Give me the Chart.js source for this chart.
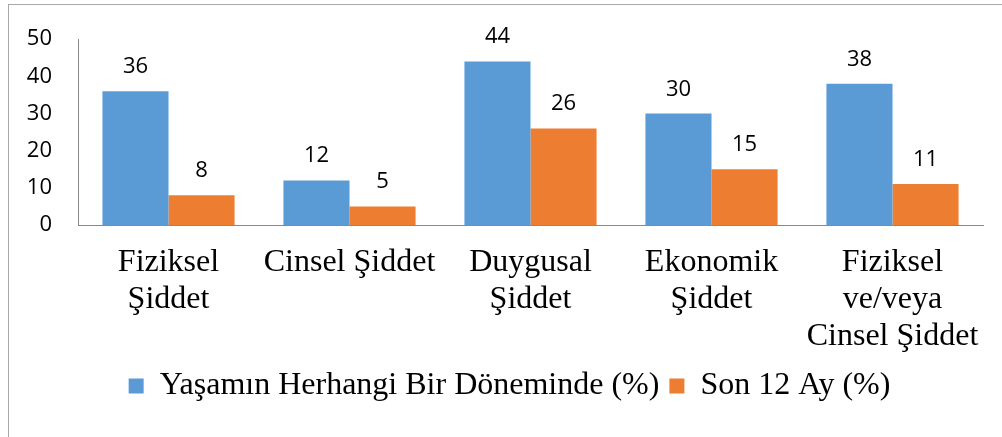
<!DOCTYPE html>
<html>
<head>
<meta charset="utf-8">
<script src="https://cdn.jsdelivr.net/npm/chart.js@4.4.1/dist/chart.umd.min.js"></script>
<style>
  html, body { margin: 0; padding: 0; background: #fff; overflow: hidden; }
  #kutu { position: relative; width: 1002px; height: 437px; }
  #cerceve { position: absolute; left: 8px; top: 4px; width: 1100px; height: 500px; border: 1px solid #a9a9a9; }
  #grafik { position: absolute; left: 0; top: 0; }
</style>
</head>
<body>
<div id="kutu">
  <div id="cerceve"></div>
  <canvas id="grafik" width="1002" height="437"></canvas>
</div>
<script>
// kategoriler ve seriler
const kategoriler = [
  ["Fiziksel", "Şiddet"],
  "Cinsel Şiddet",
  ["Duygusal", "Şiddet"],
  ["Ekonomik", "Şiddet"],
  ["Fiziksel", "ve/veya", "Cinsel Şiddet"]
];
const yasamBoyu = [36, 12, 44, 30, 38];
const son12Ay = [8, 5, 26, 15, 11];
const seriAdlari = ["Yaşamın Herhangi Bir Döneminde (%)", "Son 12 Ay (%)"];
const yTikleri = [0, 10, 20, 30, 40, 50];

const sansFont = "'Open Sans', 'Liberation Sans', sans-serif";
const serifFont = "'Liberation Serif', 'Times New Roman', serif";

//Barlarin ustune degerleri yazan eklenti
const degerEtiketleri = {
  id: 'degerEtiketleri',
  afterDatasetsDraw(chart) {
    const ctx = chart.ctx;
    ctx.save();
    ctx.font = "22px " + sansFont;
    ctx.fillStyle = '#000';
    ctx.textAlign = 'center';
    ctx.textBaseline = 'alphabetic';
    chart.data.datasets.forEach((ds, i) => {
      chart.getDatasetMeta(i).data.forEach((bar, j) => {
        ctx.fillText(String(ds.data[j]), bar.x, bar.y - 18);
      });
    });
    ctx.restore();
  }
};

//Lejanti biraz saga kaydir (cerceveye gore ortalansin)
const lejantKaydir = {
  id: 'lejantKaydir',
  afterLayout(chart) {
    if (chart.legend) {
      chart.legend.left += 18;
      chart.legend.right += 18;
    }
  }
};

const ctx = document.getElementById('grafik');
new Chart(ctx, {
  type: 'bar',
  data: {
    labels: kategoriler,
    datasets: [{
      label: seriAdlari[0],
      data: yasamBoyu,
      backgroundColor: '#5b9bd5',
      categoryPercentage: 0.73,
      barPercentage: 1
    }, {
      label: seriAdlari[1],
      data: son12Ay,
      backgroundColor: '#ed7d31',
      categoryPercentage: 0.73,
      barPercentage: 1
    }]
  },
  options: {
    responsive: false,
    animation: false,
    layout: { padding: { top: 33, right: 19, bottom: 25, left: 0 } },
    plugins: {
      tooltip: { enabled: false },
      legend: {
        position: 'bottom',
        labels: {
          boxWidth: 15,
          boxHeight: 15,
          padding: 10,
          color: '#000',
          font: { family: serifFont, size: 32 }
        }
      }
    },
    scales: {
      x: {
        grid: { display: false, drawTicks: false },
        border: { color: '#898989', width: 1 },
        ticks: {
          color: '#000',
          padding: 19,
          maxRotation: 0,
          autoSkip: false,
          font: { family: serifFont, size: 32, lineHeight: 1.16 }
        },
        afterFit(scale) { scale.height = 135; }
      },
      y: {
        min: 0,
        max: 50,
        grid: { display: false, drawTicks: false },
        border: { color: '#898989', width: 1 },
        afterBuildTicks(scale) { scale.ticks = yTikleri.map(v => ({ value: v })); },
        ticks: {
          color: '#000',
          padding: 26,
          font: { family: sansFont, size: 22 }
        },
        afterFit(scale) { scale.width = 78; }
      }
    }
  },
  plugins: [degerEtiketleri, lejantKaydir]
});
</script>
</body>
</html>
